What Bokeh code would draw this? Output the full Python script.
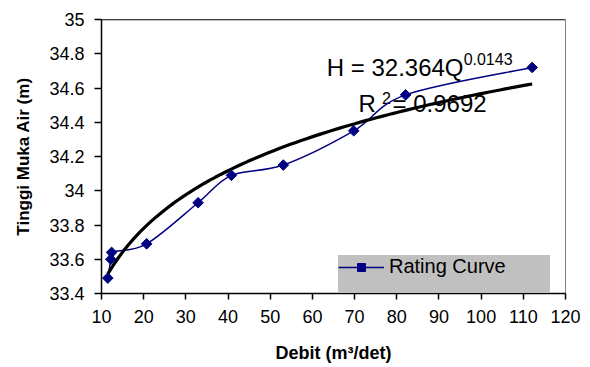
import numpy as np
from bokeh.plotting import figure
from bokeh.models import (Range1d, FixedTicker, NumeralTickFormatter, Legend,
                          LegendItem, Span, ColumnDataSource)
from bokeh.core.properties import value
from bokeh.embed import file_html
from bokeh.resources import INLINE

# ---- data ----
debit = [11.5, 12.2, 12.4, 20.7, 32.9, 40.8, 53.1, 69.8, 82.1, 112.1]
tinggi = [33.49, 33.60, 33.64, 33.69, 33.93, 34.09, 34.15, 34.35, 34.56, 34.72]
series_name = "Rating Curve"

coef_a = 32.364
coef_b = 0.0143
eq_main = "H = 32.364Q"
eq_exp = "0.0143"
r_main = "R"
r_sup = "2"
r_val = "= 0.9692"

x_ticks = [10, 20, 30, 40, 50, 60, 70, 80, 90, 100, 110, 120]
y_ticks = [33.4, 33.6, 33.8, 34.0, 34.2, 34.4, 34.6, 34.8, 35.0]

FONT = "Liberation Sans"
NAVY = "#000080"
LEG_GREY = "#C0C0C0"

p = figure(width=590, height=367, output_backend="svg", toolbar_location=None,
           x_range=Range1d(10, 120), y_range=Range1d(33.4, 35),
           min_border_left=101, min_border_right=25, min_border_top=19,
           min_border_bottom=74)
p.xgrid.visible = False
p.ygrid.visible = False
p.outline_line_color = "#808080"
p.outline_line_width = 1
p.background_fill_color = "white"
p.border_fill_color = "white"

def put_text(x, y, s, size):
    p.text(x=[x], y=[y], text=[s], text_font=value(FONT),
           text_font_size=size, text_baseline="alphabetic", text_align="left",
           text_color="black")

put_text(63.4, 34.717, eq_main, "24px")
put_text(95.85, 34.772, eq_exp, "16px")
put_text(70.9, 34.512, r_main, "24px")
put_text(76.5, 34.540, r_sup, "16px")
put_text(79.0, 34.512, r_val, "24px")

P = np.column_stack([debit, tinggi]).astype(float)
n = len(P)
segs = dict(x0=[], y0=[], x1=[], y1=[], cx0=[], cy0=[], cx1=[], cy1=[])
for i in range(n - 1):
    pm = P[max(i - 1, 0)]
    p0 = P[i]
    p1 = P[i + 1]
    p2 = P[min(i + 2, n - 1)]
    c0 = p0 + (p1 - pm) / 6.0
    c1 = p1 - (p2 - p0) / 6.0
    segs["x0"].append(p0[0]); segs["y0"].append(p0[1])
    segs["x1"].append(p1[0]); segs["y1"].append(p1[1])
    segs["cx0"].append(c0[0]); segs["cy0"].append(c0[1])
    segs["cx1"].append(c1[0]); segs["cy1"].append(c1[1])
curve = p.bezier(x0="x0", y0="y0", x1="x1", y1="y1", cx0="cx0", cy0="cy0",
                 cx1="cx1", cy1="cy1", source=ColumnDataSource(segs),
                 line_color=NAVY, line_width=1.5)

q_tr = np.linspace(min(debit), max(debit), 80)
h_tr = coef_a * q_tr ** coef_b
p.line(q_tr, h_tr, line_color="black", line_width=3.2)

pts = p.scatter(debit, tinggi, marker="square", angle=np.pi / 4, size=7.5,
                fill_color=NAVY, line_color=NAVY)

p.add_layout(Span(location=35, dimension="width", line_color="black",
                  line_width=1.5))

for ax in (p.xaxis[0], p.yaxis[0]):
    ax.axis_line_color = "black"
    ax.axis_line_width = 1.5
    ax.major_tick_line_color = "black"
    ax.major_tick_line_width = 1.5
    ax.major_tick_in = 0
    ax.minor_tick_line_color = None
    ax.major_label_text_font = FONT
    ax.major_label_text_font_size = "18px"
    ax.major_label_text_color = "black"
    ax.axis_label_text_font = FONT
    ax.axis_label_text_font_style = "bold"
    ax.axis_label_text_color = "black"

p.xaxis.ticker = FixedTicker(ticks=x_ticks)
p.yaxis.ticker = FixedTicker(ticks=y_ticks)
p.xaxis.formatter = NumeralTickFormatter(format="0")
p.yaxis.formatter = NumeralTickFormatter(format="0.[0]")
p.xaxis.major_tick_out = 6
p.yaxis.major_tick_out = 7
p.xaxis.major_label_standoff = 10
p.yaxis.major_label_standoff = 10
p.xaxis.axis_label = "Debit (m³/det)"
p.yaxis.axis_label = "Tinggi Muka Air (m)"
p.xaxis.axis_label_text_font_size = "18px"
p.yaxis.axis_label_text_font_size = "17px"
p.xaxis.axis_label_standoff = 17
p.yaxis.axis_label_standoff = 13

dummy = p.scatter(x=[0], y=[0], fill_alpha=0, line_alpha=0)
legend = Legend(items=[LegendItem(label=series_name, renderers=[curve, pts]),
                       LegendItem(label="\u00a0", renderers=[dummy])],
                location=(237, -8), orientation="vertical", level="overlay",
                background_fill_color=LEG_GREY, background_fill_alpha=1.0,
                border_line_color=None, padding=6, spacing=0, margin=0,
                glyph_width=46, glyph_height=20, label_height=20,
                label_width=161, label_standoff=5,
                label_text_font=FONT, label_text_font_size="20px",
                label_text_color="black")
p.add_layout(legend, "center")

open("out.html", "w").write(file_html(p, INLINE))
